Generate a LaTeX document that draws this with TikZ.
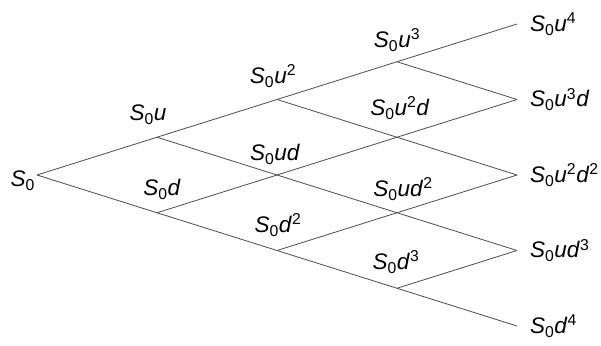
\documentclass[tikz,border=0pt]{standalone}
\usepackage{fontspec}
\setmainfont{Liberation Sans}
\usetikzlibrary{positioning}

\newcommand{\stk}[1]{\textit{S}\textsubscript{0}\textit{#1}}
\newcommand{\pw}[1]{\textsuperscript{#1}}

\begin{document}
\begin{tikzpicture}[x=1pt, y=-1pt, every node/.style={font=\fontsize{22.5}{26}\selectfont, inner sep=0pt},
  branch/.style={draw=black!70, line width=0.8pt}]
  \useasboundingbox (0,0) rectangle (601,345);

  % lattice points
  \foreach \i in {0,...,4}{
    \foreach \j in {0,...,\i}{
      \pgfmathsetmacro{\px}{37+120*\i}
      \pgfmathsetmacro{\py}{175-37.75*(\i-2*\j)}
      \coordinate (t-\i-\j) at (\px,\py);
    }
  }

  % branches
  \foreach \i [evaluate=\i as \k using int(\i+1)] in {0,...,3}{
    \foreach \j [evaluate=\j as \m using int(\j+1)] in {0,...,\i}{
      \draw[branch] (t-\i-\j) -- (t-\k-\j);
      \draw[branch] (t-\i-\j) -- (t-\k-\m);
    }
  }

  % prices
  \node[left=2pt of t-0-0, yshift=-6pt] (s-0-0) {\stk{}};
  \node (s-1-0) at (148,115) {\stk{u}};
  \node (s-1-1) at (162,189) {\stk{d}};
  \node (s-2-0) at (273,76) {\stk{u}\pw{2}};
  \node (s-2-1) at (275,154) {\stk{ud}};
  \node (s-2-2) at (278,225) {\stk{d}\pw{2}};
  \node (s-3-0) at (397,40) {\stk{u}\pw{3}};
  \node (s-3-1) at (400,108) {\stk{u}\pw{2}\textit{d}};
  \node (s-3-2) at (403,189) {\stk{ud}\pw{2}};
  \node (s-3-3) at (396,262) {\stk{d}\pw{3}};
  \node[right=13pt of t-4-0, anchor=west] (s-4-0) {\stk{u}\pw{4}};
  \node[right=13pt of t-4-1, anchor=west] (s-4-1) {\stk{u}\pw{3}\textit{d}};
  \node[right=13pt of t-4-2, anchor=west] (s-4-2) {\stk{u}\pw{2}\textit{d}\pw{2}};
  \node[right=13pt of t-4-3, anchor=west] (s-4-3) {\stk{ud}\pw{3}};
  \node[right=13pt of t-4-4, anchor=west] (s-4-4) {\stk{d}\pw{4}};
\end{tikzpicture}
\end{document}
